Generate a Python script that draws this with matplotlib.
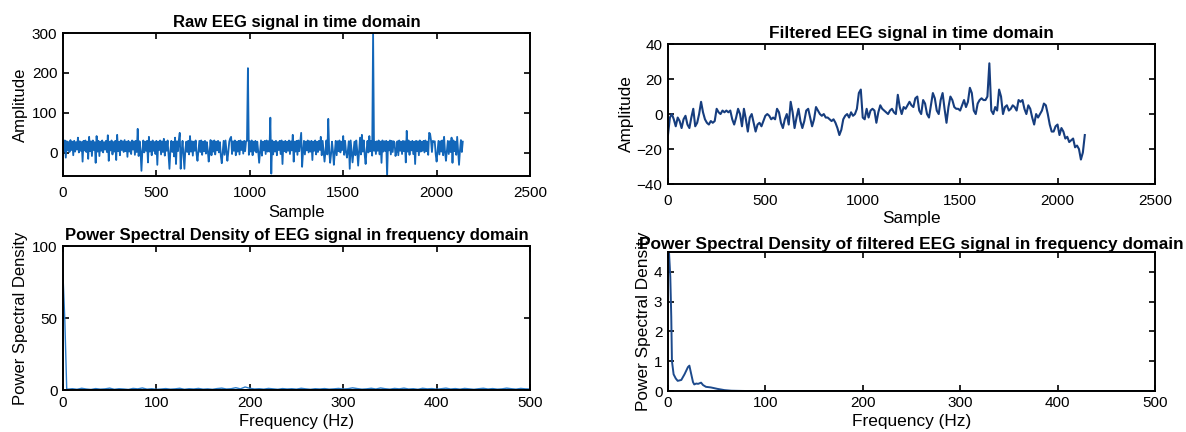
import numpy as np
import matplotlib
matplotlib.use("Agg")
import matplotlib.pyplot as plt

plt.rcParams['font.family'] = ['Liberation Sans', 'DejaVu Sans']

# raw EEG, one value every 5 samples (0..2140)
raw_step = 5
raw_eeg = [
    28, 4, 31, -12, 29, 6, 27, 2, 32, 7, 28, -6, 30, 3, 27, 8, 38, 1, 29, 5,
    27, -22, 30, 6, 31, 2, 28, -15, 40, 4, 29, -8, 31, 7, 27, -25, 42, 3, 30, -8,
    28, 5, 31, 1, 27, 8, 30, 2, 44, -20, 28, 6, 31, -4, 27, 3, 30, -18, 45, 4,
    28, -6, 31, 7, 29, 2, 32, 4, 28, -10, 30, 3, 27, -3, 31, 8, 29, -5, 30, 2,
    60, -8, 29, 4, -45, 6, 31, 1, 28, 5, 30, -24, 40, 3, 28, -6, 31, 5, 27, -3,
    30, -30, 28, 7, 31, -4, 29, 2, 35, -7, 28, 5, 31, -3, -40, 6, 30, 2, 28, -9,
    38, -28, 29, 4, 31, 50, -40, 3, 30, -6, -40, 8, 28, 2, 30, -4, 42, 3, 29, -7,
    28, 5, 31, -3, -20, 6, 30, 2, 31, -5, 28, 4, 30, -2, 27, 7, -22, 2, 32, -6,
    29, 3, 31, -4, 28, 6, 30, 1, 27, -8, -26, 3, 30, -5, 31, 4, -20, 2, 28, 36,
    40, -3, 29, 5, 31, -6, 28, 3, 30, -4, 31, 7, 28, -2, 30, 4, 29, 30, 212, -5,
    29, 3, 31, -6, 28, 5, 30, 1, 28, 4, -25, 2, 31, -7, 28, 6, 30, -3, 31, 3,
    29, 3, 88, -52, 31, -4, 28, 3, 30, -6, 27, 7, 30, -3, 31, -28, 28, 4, 30, 1,
    28, 5, 31, -3, 29, 6, 45, -22, 28, 3, 30, -5, 31, 4, 28, 50, -35, 2, 30, -4,
    28, 6, 31, 1, 29, 3, 30, -18, 28, 5, 31, -4, 28, 2, 30, 7, 40, -6, 30, 3,
    -22, 3, 31, -4, 85, 6, -25, -3, 28, 5, -30, 2, 30, -6, 29, 4, 31, 1, 28, 7,
    42, -5, 30, 3, -12, 6, 29, -40, 31, 4, -24, 3, 28, -6, 31, 5, -32, 2, 38, -4,
    45, 3, 31, -5, -28, 6, 30, 1, 42, 4, 30, -7, 300, 5, 28, -3, 29, 5, 31, -4,
    28, -25, 31, 3, 29, 5, 30, -60, 28, 6, 31, -4, 30, 2, 29, 25, -8, 3, 29, -6,
    31, 5, 28, -3, 30, 4, 29, -24, 55, 3, 31, -5, 28, 6, 30, -3, 28, -28, 30, 4,
    29, -6, 31, 3, 28, 5, 30, 1, 31, 4, 28, -5, 50, 48, 31, 2, 30, 27, 29, -3,
    -22, 5, 30, -4, 29, 3, 31, -6, 40, 3, -20, 5, 30, -3, 29, 2, 38, -25, 31, 4,
    28, -5, 40, 3, -30, 6, 32, 2, 28,
]

# filtered EEG, one value every 10 samples (0..2140)
filt_step = 10
filtered_eeg = [
    -12, -2, 0, -3, -7, -2, -4, -8, -3, -1,
    -6, -8, -2, 3, -7, -5, 0, 7, 1, -3,
    -5, -6, -4, -5, -4, 3, 1, 0, 2, 1,
    2, 1, 2, -3, -6, -2, 3, 0, -7, 3,
    -3, -10, -2, 0, -5, -10, -6, -5, -7, -4,
    -1, 0, -1, -3, -2, -3, 3, 1, -5, -8,
    -3, 0, -6, 7, 1, -8, -2, 3, -4, -8,
    -4, 2, 3, -2, -7, -3, 4, 2, 0, -1,
    0, -2, -2, -3, -4, -3, -5, -8, -12, -9,
    -3, -1, 0, -2, 1, -1, 0, 3, 12, 14,
    -2, -3, 3, -2, 2, 3, 2, -5, 1, 5,
    3, 2, 1, 0, 2, 3, 1, 0, 11, 4,
    0, 4, 3, 5, 7, 5, 4, 9, 10, 2,
    0, 8, 6, 0, -2, 5, 12, 9, 2, 0,
    8, 12, 3, -5, 4, 10, 8, 4, 3, 3,
    2, 5, 8, 4, 7, 15, 12, 2, 0, 6,
    8, 9, 8, 8, 10, 29, 2, 0, 4, 2,
    14, 10, 0, 4, 5, 2, 3, 5, 4, 2,
    8, 7, 8, 3, 0, 5, 3, -2, -6, 0,
    -2, 0, 2, 6, 5, 0, -6, -10, -10, -7,
    -6, -12, -8, -10, -14, -13, -16, -15, -14, -19,
    -18, -20, -26, -22, -12,
]

# PSD of raw signal
psd_raw_head_f = [0, 2, 4]
psd_raw_head = [80, 48, 0.8]
psd_raw_tail_step = 5
psd_raw_tail = [
    0.6, 0.9, 0.5, 1.2, 0.7, 0.4, 1.0, 0.6, 0.8, 1.3,
    0.5, 0.9, 0.7, 0.4, 1.1, 0.8, 1.4, 0.6, 0.9, 0.5,
    0.7, 1.0, 0.6, 0.8, 1.2, 0.5, 0.9, 0.7, 1.1, 0.6,
    0.8, 0.5, 1.0, 1.3, 0.7, 0.9, 1.6, 0.8, 2.1, 1.2,
    0.7, 0.9, 0.6, 1.1, 0.8, 0.5, 1.0, 0.7, 0.9, 0.6,
    1.2, 0.8, 0.5, 0.9, 0.7, 1.0, 0.6, 0.8, 1.1, 0.7,
    0.9, 1.5, 1.0, 0.6, 0.8, 1.2, 0.7, 1.4, 0.9, 0.6,
    1.1, 0.8, 1.3, 0.7, 0.9, 0.5, 1.2, 0.8, 1.0, 0.6,
    0.9, 1.3, 0.7, 1.0, 0.6, 1.1, 0.8, 0.5, 0.9, 1.2,
    0.7, 1.0, 0.6, 0.8, 1.3, 0.9, 0.6, 1.1, 0.8, 0.7,
]

# PSD of filtered signal
psd_filt_f = [0, 1, 2.4, 3.4, 4.1, 5.8, 8, 10, 13.7, 17, 20.5, 22, 24, 25.7, 27,
              29, 31, 34, 36, 39, 44, 51, 58, 65, 72, 80, 100, 200, 300, 400, 500]
psd_filt = [4.65, 4.7, 3.83, 2.48, 1.0, 0.56, 0.42, 0.34, 0.37, 0.56, 0.8, 0.85,
            0.55, 0.3, 0.22, 0.25, 0.24, 0.28, 0.2, 0.14, 0.12, 0.07, 0.03, 0.01,
            0.005, 0, 0, 0, 0, 0, 0]

raw_x = np.arange(len(raw_eeg)) * raw_step
filt_x = np.arange(len(filtered_eeg)) * filt_step
psd_raw_f = psd_raw_head_f + list(np.arange(1, len(psd_raw_tail) + 1) * psd_raw_tail_step)
psd_raw = psd_raw_head + psd_raw_tail

fig = plt.figure(figsize=(11.86, 4.32), dpi=100)
ax1 = fig.add_axes([0.0531, 0.5926, 0.3938, 0.331])
ax2 = fig.add_axes([0.5632, 0.574, 0.4106, 0.324])
ax3 = fig.add_axes([0.0531, 0.0972, 0.3938, 0.3333])
ax4 = fig.add_axes([0.5632, 0.0949, 0.4106, 0.3218])

ax1.plot(raw_x, raw_eeg, color='#1266b9', lw=1.3)
ax1.set_xlim(0, 2500)
ax1.set_ylim(-58, 300)
ax1.set_yticks([0, 100, 200, 300])
ax1.set_xticks([0, 500, 1000, 1500, 2000, 2500])
ax1.set_title('Raw EEG signal in time domain', fontsize=12, fontweight='bold', pad=4.5)
ax1.set_xlabel('Sample', fontsize=12, labelpad=3)
ax1.set_ylabel('Amplitude', fontsize=12, labelpad=3)
ax1.tick_params(axis='x', pad=7.5)

ax2.plot(filt_x, filtered_eeg, color='#163d7e', lw=1.5)
ax2.set_xlim(0, 2500)
ax2.set_ylim(-40, 40)
ax2.set_yticks([-40, -20, 0, 20, 40])
ax2.set_xticks([0, 500, 1000, 1500, 2000, 2500])
ax2.set_title('Filtered EEG signal in time domain', fontsize=12.4, fontweight='bold', pad=4.5)
ax2.set_xlabel('Sample', fontsize=12.4, labelpad=2)
ax2.set_ylabel('Amplitude', fontsize=12.4, labelpad=2)
ax2.tick_params(axis='x', pad=7)

ax3.plot(psd_raw_f, psd_raw, color='#2a7bc9', lw=1.0)
ax3.set_xlim(0, 500)
ax3.set_ylim(0, 100)
ax3.set_yticks([0, 50, 100])
ax3.set_title('Power Spectral Density of EEG signal in frequency domain',
              fontsize=12, fontweight='bold', pad=4.5)
ax3.set_xlabel('Frequency (Hz)', fontsize=12, labelpad=3)
ax3.set_ylabel('Power Spectral Density', fontsize=12, labelpad=3)
ax3.tick_params(axis='x', pad=4.5)

ax4.plot(psd_filt_f, psd_filt, color='#1d4a8c', lw=1.4)
ax4.set_xlim(0, 500)
ax4.set_ylim(0, 4.66)
ax4.set_yticks([0, 1, 2, 3, 4])
ax4.set_title('Power Spectral Density of filtered EEG signal in frequency domain',
              fontsize=12.4, fontweight='bold', pad=2)
ax4.set_xlabel('Frequency (Hz)', fontsize=12.4, labelpad=3)
ax4.set_ylabel('Power Spectral Density', fontsize=12.4, labelpad=2)
ax4.tick_params(axis='x', pad=3.5)

for ax in (ax1, ax2, ax3, ax4):
    ax.tick_params(direction='in', top=True, right=True, length=4, width=1.2,
                   labelsize=11)
    ax.tick_params(axis='y', pad=4)
    for s in ax.spines.values():
        s.set_linewidth(1.4)

fig.savefig('out.png', dpi=100)
